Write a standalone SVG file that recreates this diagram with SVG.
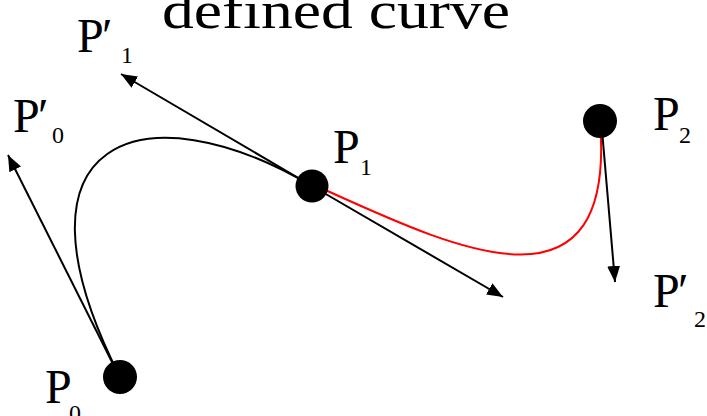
<svg xmlns="http://www.w3.org/2000/svg" width="707" height="416" viewBox="0 0 707 416">
<style>
.lbl{font-family:"Liberation Serif","Times New Roman",serif;font-size:48px;fill:#000}
.sub{font-size:24px}
.arr{stroke:#000;stroke-width:2;fill:none;marker-end:url(#ah)}
.dot{fill:#000}
</style>
<defs>
<marker id="ah" markerUnits="userSpaceOnUse" markerWidth="17" markerHeight="13" refX="16" refY="6.5" orient="auto">
<path d="M0,0 L16,6.5 L0,13 z" fill="#000"/>
</marker>
</defs>
<rect width="707" height="416" fill="#fff"/>
<text id="title" x="162" y="28" class="lbl" style="font-size:53px" textLength="348" lengthAdjust="spacingAndGlyphs">defined curve</text>
<g id="connectors">
<path d="M120,377 C-2,136 144,87 312,186" stroke="#000" stroke-width="2" fill="none"/>
<path d="M312,184 C448.5,245.5 617,331 600,121" stroke="#f00" stroke-width="2" fill="none"/>
<line class="arr" x1="113" y1="364" x2="8" y2="155"/>
<line class="arr" x1="312" y1="186" x2="121" y2="74"/>
<line class="arr" x1="312" y1="186" x2="503" y2="297"/>
<line class="arr" x1="602" y1="130" x2="615" y2="282"/>
</g>
<g id="P0"><circle class="dot" cx="120" cy="377" r="17"/><text class="lbl" x="45" y="403">P<tspan class="sub" x="69" y="421">0</tspan></text></g>
<g id="P1"><circle class="dot" cx="312" cy="186" r="16.5"/><text class="lbl" x="333" y="163">P<tspan class="sub" x="360" y="175">1</tspan></text></g>
<g id="P2"><circle class="dot" cx="600" cy="121" r="17"/><text class="lbl" x="653" y="130">P<tspan class="sub" x="679" y="143">2</tspan></text></g>
<g id="P0p"><text class="lbl" x="13" y="132">P<tspan x="38">′</tspan><tspan class="sub" x="52" y="143">0</tspan></text></g>
<g id="P1p"><text class="lbl" x="77" y="52">P<tspan x="102">′</tspan><tspan class="sub" x="121" y="63">1</tspan></text></g>
<g id="P2p"><text class="lbl" x="653" y="307">P<tspan x="678">′</tspan><tspan class="sub" x="694" y="327">2</tspan></text></g>
</svg>
